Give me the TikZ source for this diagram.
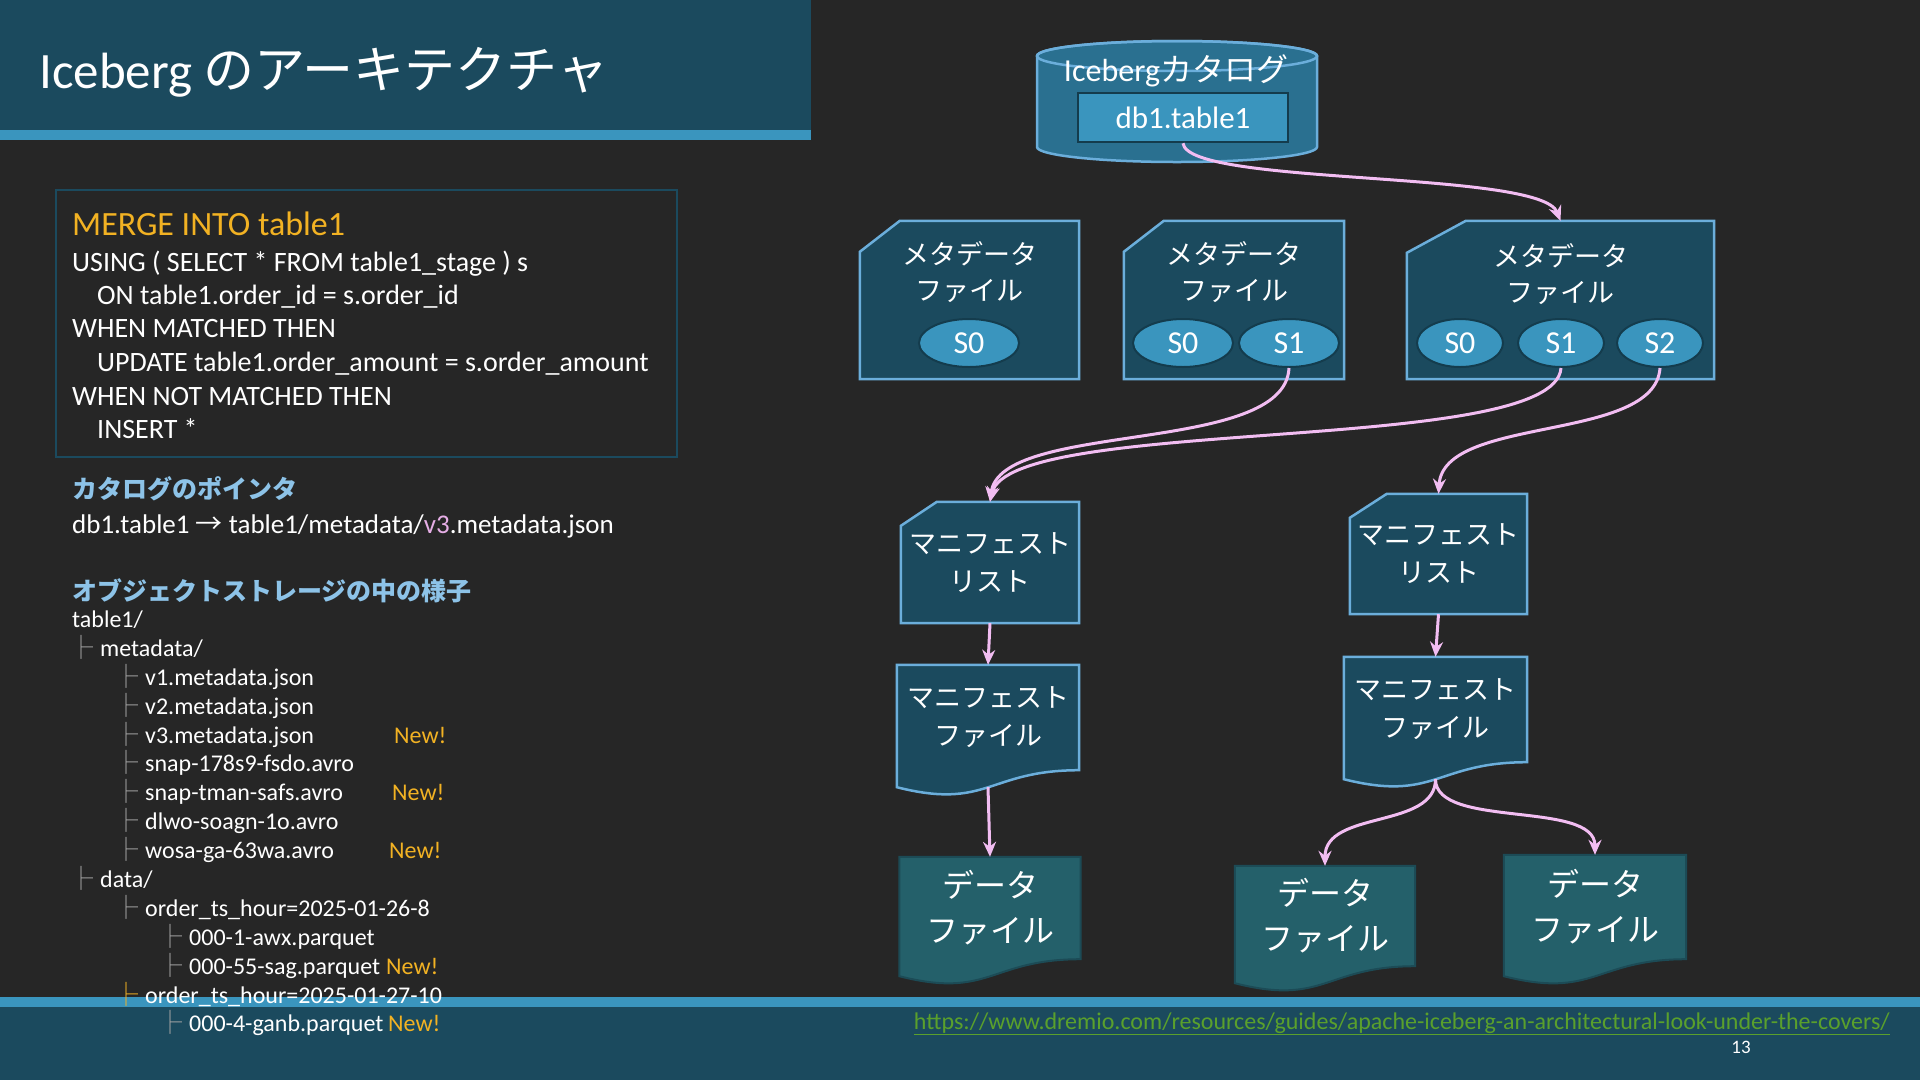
\documentclass[tikz,border=0pt]{standalone}
\usepackage{fontspec}
\setmainfont{Carlito}
\newfontfamily\jp{Noto Sans CJK JP}
\usepackage{tikz}
\usetikzlibrary{arrows.meta,shapes.geometric}

\definecolor{pagebg}{HTML}{262626}
\definecolor{barblue}{HTML}{1B4A5E}
\definecolor{stripe}{HTML}{3A95BE}
\definecolor{edgeblue}{HTML}{6BAEDB}
\definecolor{cylfill}{HTML}{2A7090}
\definecolor{snapfill}{HTML}{3A95BE}
\definecolor{snapedge}{HTML}{143C4D}
\definecolor{datafill}{HTML}{24606A}
\definecolor{dataedge}{HTML}{1C4B56}
\definecolor{linkpink}{HTML}{F2BDF2}
\definecolor{neworange}{HTML}{F2B223}
\definecolor{headblue}{HTML}{8DC3E8}
\definecolor{vpink}{HTML}{E6AEE6}
\definecolor{urlgreen}{HTML}{5AA02C}
\definecolor{treegray}{HTML}{A6A6A6}

\pgfdeclarelayer{back}
\pgfsetlayers{back,main}

\newcommand{\fs}[2]{\fontsize{#1}{#2}\selectfont}
\newcommand{\treebr}{{\jp\color{treegray}├}\hspace{7pt}}
\newcommand{\cutpath}[3]{(#1.south west) -- ([yshift=-#3]#1.north west) -- ([xshift=#2]#1.north west) -- (#1.north east) -- (#1.south east) -- cycle}
\newcommand{\docpath}[1]{(#1.north west) -- (#1.north east) -- (#1.south east) .. controls (#1.south) and ([yshift=-40pt]#1.south) .. ([yshift=-17pt]#1.south west) -- cycle}

\begin{document}
\begin{tikzpicture}[x=1pt, y=-1pt,
  codeline/.style={anchor=base west, inner sep=0pt, text=white, font=\fs{28}{34}},
  treeline/.style={anchor=base west, inner sep=0pt, text=white, font=\fs{24}{29}},
  newtag/.style={anchor=base west, inner sep=0pt, text=neworange, font=\fs{24}{29}},
  heading/.style={anchor=base west, inner sep=0pt, text=headblue, font={\jp\bfseries\fs{25}{30}}},
  boxnode/.style={rectangle, inner sep=0pt, text=white, align=center},
  boxtext/.style={inner sep=0pt, text=white, align=center, font={\jp\fs{27}{36}}},
  snap/.style={ellipse, fill=snapfill, draw=snapedge, line width=2pt, minimum height=48pt, inner sep=0pt, text=white, font=\fs{32}{32}},
  boxdraw/.style={fill=barblue, draw=edgeblue, line width=2.5pt},
  datadraw/.style={fill=datafill, draw=dataedge, line width=2pt},
  ptr/.style={draw=linkpink, line width=3pt, -{Stealth[length=15pt,width=13pt]}}]

\useasboundingbox (0,0) rectangle (1920,1080);

\begin{pgfonlayer}{back}
\fill[pagebg] (0,0) rectangle (1920,1080);
\fill[barblue] (0,0) rectangle (811,130);
\fill[stripe] (0,130) rectangle (811,140);
\fill[stripe] (0,997) rectangle (1920,1007);
\fill[barblue] (0,1007) rectangle (1920,1080);
\filldraw[fill=cylfill, draw=edgeblue, line width=2.5pt] (1037,56) -- (1037,147) arc[start angle=180, end angle=0, x radius=140, y radius=15] -- (1317,56) arc[start angle=0, end angle=-180, x radius=140, y radius=15] -- cycle;
\draw[edgeblue, line width=2.5pt] (1177,56) ellipse [x radius=140, y radius=15];
\end{pgfonlayer}

\node[anchor=base west, inner sep=0pt, text=white, font=\fs{51}{60}] (title) at (39,88) {Iceberg {\jp のアーキテクチャ}};

\node[draw=barblue, line width=2pt, minimum width=621pt, minimum height=267pt] (codebox) at (366.5,323.5) {};
\node[codeline, font=\fs{34}{40}, text=neworange] (c0) at (72,235) {MERGE INTO table1};
\node[codeline] (c1) at (72,271) {USING ( SELECT * FROM table1\_stage ) s};
\node[codeline] (c2) at (97,304) {ON table1.order\_id = s.order\_id};
\node[codeline] (c3) at (72,337) {WHEN MATCHED THEN};
\node[codeline] (c4) at (97,371) {UPDATE table1.order\_amount = s.order\_amount};
\node[codeline] (c5) at (72,405) {WHEN NOT MATCHED THEN};
\node[codeline] (c6) at (97,438) {INSERT *};

\node[heading] (h1) at (72,498) {カタログのポインタ};
\node[codeline, font=\fs{27}{32}] (ptrline) at (72,533) {db1.table1 {\jp →} table1/metadata/{\color{vpink}v3}.metadata.json};
\node[heading] (h2) at (72,600) {オブジェクトストレージの中の様子};

\node[treeline] (t0) at (72,627) {table1/};
\node[treeline] (t1) at (69,656) {\treebr metadata/};
\node[treeline] (t2) at (114,685) {\treebr v1.metadata.json};
\node[treeline] (t3) at (114,714) {\treebr v2.metadata.json};
\node[treeline] (t4) at (114,743) {\treebr v3.metadata.json};
\node[treeline] (t5) at (114,771) {\treebr snap-178s9-fsdo.avro};
\node[treeline] (t6) at (114,800) {\treebr snap-tman-safs.avro};
\node[treeline] (t7) at (114,829) {\treebr dlwo-soagn-1o.avro};
\node[treeline] (t8) at (114,858) {\treebr wosa-ga-63wa.avro};
\node[treeline] (t9) at (69,887) {\treebr data/};
\node[treeline] (t10) at (114,916) {\treebr order\_ts\_hour=2025-01-26-8};
\node[treeline] (t11) at (158,945) {\treebr 000-1-awx.parquet};
\node[treeline] (t12) at (158,974) {\treebr 000-55-sag.parquet};
\node[treeline] (t13) at (114,1003) {{\jp\color{neworange}├}\hspace{7pt}order\_ts\_hour=2025-01-27-10};
\node[treeline] (t14) at (158,1031) {\treebr 000-4-ganb.parquet};
\node[newtag] (n4) at (394,743) {New!};
\node[newtag] (n6) at (392,800) {New!};
\node[newtag] (n8) at (389,858) {New!};
\node[newtag] (n12) at (386,974) {New!};
\node[newtag] (n14) at (388,1031) {New!};

\node[anchor=base east, inner sep=0pt, text=urlgreen, font=\fs{24}{28}] (url) at (1890,1029) {\underline{https://www.dremio.com/resources/guides/apache-iceberg-an-architectural-look-under-the-covers/}};
\node[anchor=base, inner sep=0pt, text=white, font=\fs{19}{22}] (page) at (1741,1053) {13};

\node[anchor=base, inner sep=0pt, text=white, font=\fs{32}{36}] (catlbl) at (1176,81) {Iceberg{\jp カタログ}};
\node[fill=snapfill, draw=snapedge, line width=2.5pt, minimum width=210pt, minimum height=49pt, inner sep=0pt, text=white, font=\fs{31}{31}] (db1) at (1183,117.5) {db1.table1};

\node[boxnode, minimum width=219pt, minimum height=158pt] (meta1) at (969.5,300) {};
\node[boxnode, minimum width=220pt, minimum height=158pt] (meta2) at (1234,300) {};
\node[boxnode, minimum width=307pt, minimum height=158pt] (meta3) at (1560.5,300) {};
\node[boxtext] (meta1t) at (969.5,272) {メタデータ\\ファイル};
\node[boxtext] (meta2t) at (1234,272) {メタデータ\\ファイル};
\node[boxtext] (meta3t) at (1560.5,274) {メタデータ\\ファイル};
\node[snap, minimum width=100pt] (s0a) at (969,343) {S0};
\node[snap, minimum width=100pt] (s0b) at (1183,343) {S0};
\node[snap, minimum width=100pt] (s1b) at (1289,343) {S1};
\node[snap, minimum width=86pt] (s0c) at (1460,343) {S0};
\node[snap, minimum width=86pt] (s1c) at (1561,343) {S1};
\node[snap, minimum width=86pt] (s2c) at (1660,343) {S2};

\node[boxnode, minimum width=178pt, minimum height=121pt, font={\jp\fs{27}{38}}] (ml1) at (990,562.5) {マニフェスト\\リスト};
\node[boxnode, minimum width=177pt, minimum height=120pt, font={\jp\fs{27}{38}}] (ml2) at (1438.5,554) {マニフェスト\\リスト};
\node[boxnode, minimum width=182pt, minimum height=105pt, font={\jp\fs{27}{38}}] (mf1) at (988,717.5) {マニフェスト\\ファイル};
\node[boxnode, minimum width=183pt, minimum height=105pt, font={\jp\fs{27}{38}}] (mf2) at (1435.5,709.5) {マニフェスト\\ファイル};
\node[boxnode, minimum width=181pt, minimum height=102pt, font={\jp\fs{32}{45}}] (df1) at (990,908) {データ\\ファイル};
\node[boxnode, minimum width=180pt, minimum height=100pt, font={\jp\fs{32}{45}}] (df2) at (1325,916) {データ\\ファイル};
\node[boxnode, minimum width=182pt, minimum height=104pt, font={\jp\fs{32}{45}}] (df3) at (1595,907) {データ\\ファイル};

\begin{pgfonlayer}{back}
\filldraw[boxdraw] \cutpath{meta1}{40pt}{31pt};
\filldraw[boxdraw] \cutpath{meta2}{40pt}{31pt};
\filldraw[boxdraw] \cutpath{meta3}{59pt}{32pt};
\filldraw[boxdraw] \cutpath{ml1}{36pt}{24pt};
\filldraw[boxdraw] \cutpath{ml2}{37pt}{24pt};
\filldraw[boxdraw] \docpath{mf1};
\filldraw[boxdraw] \docpath{mf2};
\filldraw[datadraw] \docpath{df1};
\filldraw[datadraw] \docpath{df2};
\filldraw[datadraw] \docpath{df3};
\end{pgfonlayer}

\draw[ptr] (db1.south) .. controls +(5,43) and +(-20,-51) .. (meta3.north);
\draw[ptr] (s1b.south) .. controls +(-4,88) and +(10,-82) .. (ml1.north);
\draw[ptr] (s1c.south) .. controls +(-6,88) and +(20,-87) .. (ml1.north);
\draw[ptr] (s2c.south) .. controls +(-5,75) and +(5,-79) .. (ml2.north);
\draw[ptr] (ml1.south) -- (mf1.north);
\draw[ptr] ([yshift=-17pt]mf1.south) -- (df1.north);
\draw[ptr] (ml2.south) -- (mf2.north);
\draw[ptr] ([yshift=-17pt]mf2.south) .. controls +(0,50) and +(0,-56) .. (df2.north);
\draw[ptr] ([yshift=-17pt]mf2.south) .. controls +(0,50) and +(0,-55) .. (df3.north);
\end{tikzpicture}
\end{document}
